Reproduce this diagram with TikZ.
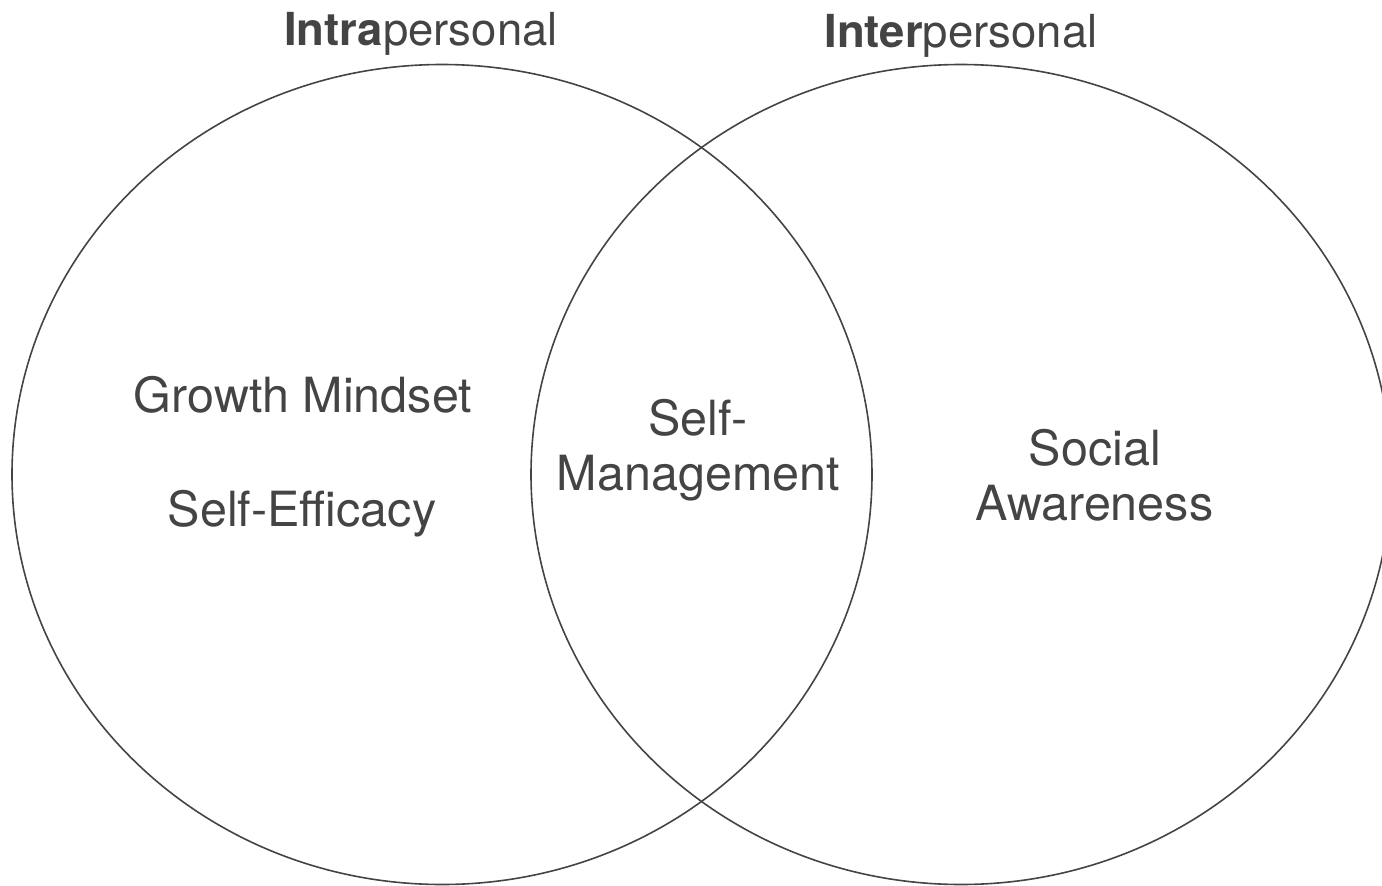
\documentclass[tikz,border=0pt]{standalone}
\usepackage{fontspec}
\setmainfont{TeX Gyre Heros}
\definecolor{ink}{HTML}{444444}
\begin{document}
\begin{tikzpicture}[x=1pt,y=-1pt,
  ring/.style={draw=ink,line width=1.6pt},
  title/.style={anchor=base,inner sep=0pt,text=ink,font=\fontsize{45.5}{54}\selectfont},
  body/.style={anchor=base,inner sep=0pt,text=ink,font=\fontsize{48.5}{55}\selectfont}]
\useasboundingbox (0,0) rectangle (1382,886);
\clip (0,0) rectangle (1382,886);
\draw[ring] (442,474.5) ellipse [x radius=430, y radius=410];
\draw[ring] (961,474.5) ellipse [x radius=430, y radius=410];
\node[title] (intra) at (421,45) {\textbf{Intra}personal};
\node[title] (inter) at (961,47) {\textbf{Inter}personal};
\node[body] (growth) at (303,412) {Growth Mindset};
\node[body] (efficacy) at (302,526) {Self-Efficacy};
\node[body] (self) at (698,435) {Self-};
\node[body] (mgmt) at (698.5,490) {Management};
\node[body] (social) at (1095,465) {Social};
\node[body] (aware) at (1094.5,520) {Awareness};
\end{tikzpicture}
\end{document}
